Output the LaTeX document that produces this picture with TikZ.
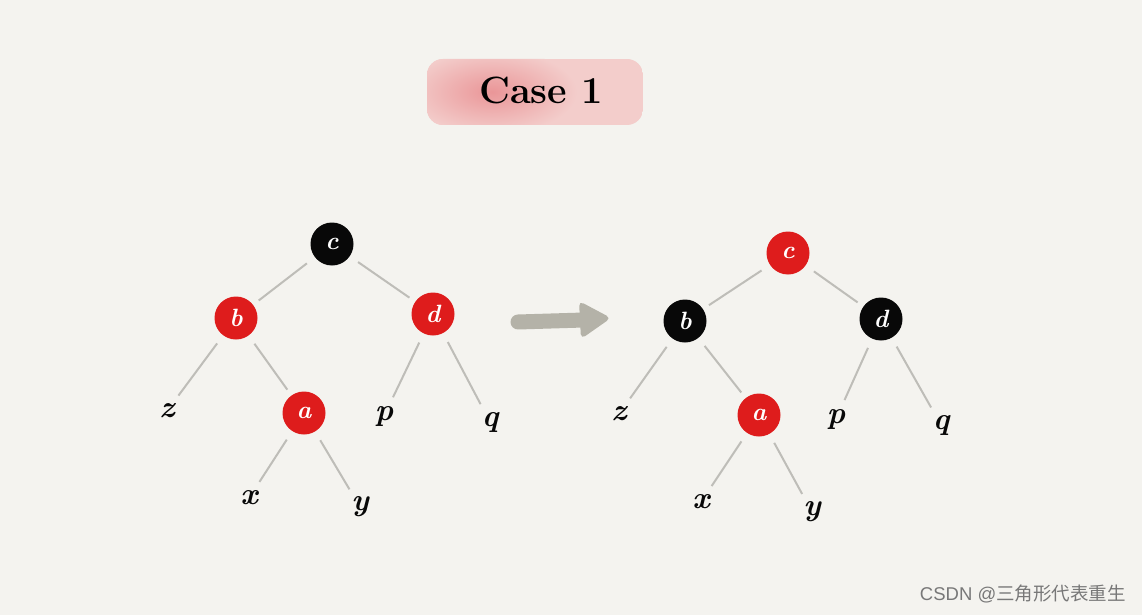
\documentclass[tikz,border=0pt]{standalone}
\usepackage{fontspec}
\newfontfamily\cjk{Noto Sans CJK SC}
\newfontfamily\wm{Liberation Sans}
\usetikzlibrary{shadings}
\definecolor{bg}{RGB}{244,243,239}
\definecolor{nred}{RGB}{222,28,28}
\definecolor{nblack}{RGB}{8,8,8}
\definecolor{egray}{RGB}{190,189,184}
\definecolor{agray}{RGB}{180,178,168}
\definecolor{pinkin}{RGB}{234,150,152}
\definecolor{pinkout}{RGB}{243,205,203}
\definecolor{wmgray}{RGB}{120,120,120}
\tikzset{
  rbnode/.style={circle, minimum size=43pt, inner sep=0pt, text=white, font=\fontsize{25}{25}\selectfont\bfseries\itshape},
  rednode/.style={rbnode, fill=nred},
  blknode/.style={rbnode, fill=nblack},
  leaf/.style={circle, minimum size=24pt, inner sep=0pt, text=nblack, font=\fontsize{31}{31}\selectfont\bfseries\itshape},
  edge/.style={draw=egray, line width=2pt, shorten <=10pt, shorten >=7pt},
}
\begin{document}
\begin{tikzpicture}[x=1pt,y=-1pt]
\fill[bg] (0,0) rectangle (1142,615);
\useasboundingbox (0,0) rectangle (1142,615);
% title blob
\begin{scope}
\clip[rounded corners=16pt] (427,59) rectangle (643,125);
\fill[pinkout] (427,59) rectangle (643,125);
\shade[inner color=pinkin, outer color=pinkout] (492,92) ellipse (85pt and 42pt);
\end{scope}
\node (title) at (541,90) {\fontsize{38}{38}\selectfont\bfseries Case 1};
% left tree
\node[blknode] (c1) at (332,244) {c};
\node[rednode] (b1) at (236,318) {b};
\node[rednode] (d1) at (433,314) {d};
\node[rednode] (a1) at (304,413) {a};
\node[leaf] (z1) at (167,411) {z};
\node[leaf] (p1) at (384,416) {p};
\node[leaf] (q1) at (490,422) {q};
\node[leaf] (x1) at (249,498) {x};
\node[leaf] (y1) at (360,507) {y};
\draw[edge] (c1) -- (b1);
\draw[edge] (c1) -- (d1);
\draw[edge] (b1) -- (z1);
\draw[edge] (b1) -- (a1);
\draw[edge] (d1) -- (p1);
\draw[edge] (d1) -- (q1);
\draw[edge] (a1) -- (x1);
\draw[edge] (a1) -- (y1);
% arrow
\coordinate (as) at (518,322);
\coordinate (ae) at (584,320);
\draw[agray, line width=15pt, line cap=round] (as) -- (ae);
\fill[agray, rounded corners=5pt] (579,301) -- (611,318) -- (581,339) -- cycle;
% right tree
\node[rednode] (c2) at (788,253) {c};
\node[blknode] (b2) at (685,321) {b};
\node[blknode] (d2) at (881,319) {d};
\node[rednode] (a2) at (759,415) {a};
\node[leaf] (z2) at (619,414) {z};
\node[leaf] (p2) at (836,419) {p};
\node[leaf] (q2) at (941,425) {q};
\node[leaf] (x2) at (701,502) {x};
\node[leaf] (y2) at (812,512) {y};
\draw[edge] (c2) -- (b2);
\draw[edge] (c2) -- (d2);
\draw[edge] (b2) -- (z2);
\draw[edge] (b2) -- (a2);
\draw[edge] (d2) -- (p2);
\draw[edge] (d2) -- (q2);
\draw[edge] (a2) -- (x2);
\draw[edge] (a2) -- (y2);
% watermark
\node[anchor=east, text=wmgray, inner sep=0pt] (wm) at (1126,594) {\fontsize{18.5}{18.5}\selectfont\wm CSDN @\cjk 三角形代表重生};
\end{tikzpicture}
\end{document}
